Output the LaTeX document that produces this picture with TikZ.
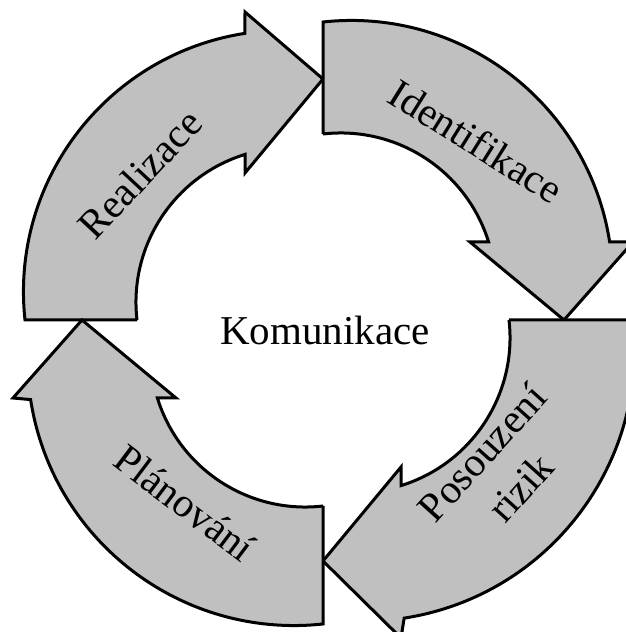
\documentclass[tikz,border=0pt]{standalone}
\usepackage{fontspec}
\setmainfont{Liberation Serif}
\definecolor{cyclegray}{RGB}{192,192,192}
\begin{document}
\begin{tikzpicture}[x=1pt,y=1pt,
  ringarrow/.style={fill=cyclegray,draw=black,line width=3pt,line join=miter,miter limit=10},
  arclabel/.style={font=\fontsize{41pt}{52pt}\selectfont,inner sep=0pt,align=center}]
\useasboundingbox (0,0) rectangle (626,632);
\clip (0,0) rectangle (626,632);
\coordinate (hub) at (323,312);
% four curved block arrows, each a quarter turn clockwise from the previous;
% \s widens the outer rim, \b places the outer barb of the head
\foreach \k/\s/\b in {0/1/308,1/1/310,2/1.04/318,3/1.02/310}{
  \begin{scope}[shift={(hub)},rotate=-90*\k]
    \draw[ringarrow] (-186,0) -- ({-298*\s},0)
      arc[start angle=186.2,end angle=98.8,radius={261.5*\s}]
      -- (-78,\b) -- (0,241) -- (-78,147) -- (-78,165.6)
      arc[start angle=107.2,end angle=186.6,radius=154.8]
      -- cycle;
  \end{scope}
}
\node[arclabel,anchor=base] (komunikace) at (325,287) {Komunikace};
\node[arclabel,rotate=47] (realizace) at (140,458) {Realizace};
\node[arclabel,rotate=-32] (identifikace) at (476,491) {Identifikace};
\node[arclabel,rotate=48] (posouzeni) at (501,162) {Posouzení\\rizik};
\node[arclabel,rotate=-37] (planovani) at (185,129) {Plánování};
\end{tikzpicture}
\end{document}
